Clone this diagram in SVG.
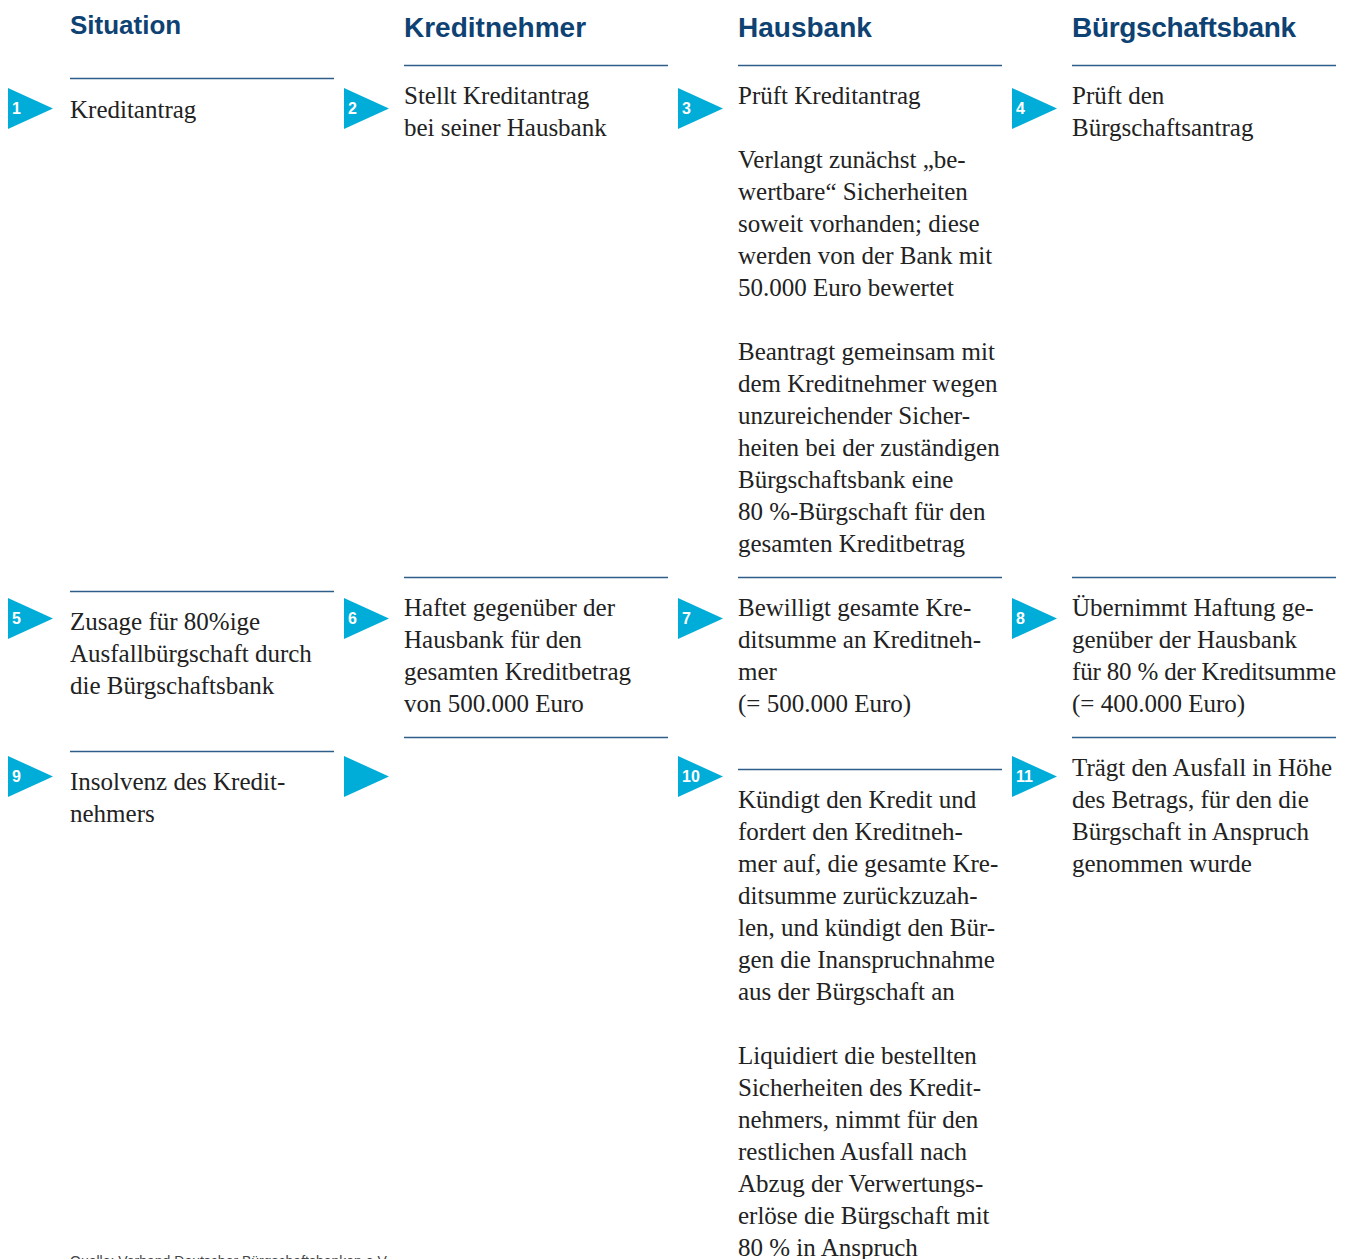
<svg xmlns="http://www.w3.org/2000/svg" xmlns:xlink="http://www.w3.org/1999/xlink" width="1352" height="1259" viewBox="0 0 1352 1259">
  <style>
    .hd { font-family: "Liberation Sans", Arial, sans-serif; font-weight: bold; fill: #0e4273; font-size: 28px; }
    .hd.s { font-size: 26px; }
    .tx { font-family: "Liberation Serif", "Times New Roman", serif; font-size: 25px; fill: #222222; }
    .rule { stroke: #2f5e8b; stroke-width: 1.5; fill: none; }
    .num { font-family: "Liberation Sans", Arial, sans-serif; font-weight: bold; font-size: 16px; fill: #ffffff; }
    .src { font-family: "Liberation Sans", Arial, sans-serif; font-size: 14px; fill: #444444; }
  </style>
  <defs>
    <!-- step marker: cyan triangle pointing right -->
    <path id="tri" d="M0 0 L45 20.5 L0 41 Z" fill="#00add8"/>
  </defs>

  <rect width="1352" height="1259" fill="#ffffff"/>

  <!-- column headings -->
  <g id="headings">
    <text class="hd s" x="70" y="34">Situation</text>
    <text class="hd" x="404" y="37">Kreditnehmer</text>
    <text class="hd" x="738" y="37">Hausbank</text>
    <text class="hd" x="1072" y="37" textLength="224">Bürgschaftsbank</text>
  </g>

  <!-- separator rules -->
  <g id="rules" class="rule">
    <line x1="70" y1="78.5" x2="334" y2="78.5"/>
    <line x1="404" y1="65.5" x2="668" y2="65.5"/>
    <line x1="738" y1="65.5" x2="1002" y2="65.5"/>
    <line x1="1072" y1="65.5" x2="1336" y2="65.5"/>

    <line x1="70" y1="591.5" x2="334" y2="591.5"/>
    <line x1="404" y1="577.5" x2="668" y2="577.5"/>
    <line x1="738" y1="577.5" x2="1002" y2="577.5"/>
    <line x1="1072" y1="577.5" x2="1336" y2="577.5"/>

    <line x1="70" y1="751.5" x2="334" y2="751.5"/>
    <line x1="404" y1="737.5" x2="668" y2="737.5"/>
    <line x1="738" y1="769.5" x2="1002" y2="769.5"/>
    <line x1="1072" y1="737.5" x2="1336" y2="737.5"/>
  </g>

  <!-- step markers -->
  <g id="markers">
    <g id="step1"><use xlink:href="#tri" x="8" y="88"/><text class="num" x="12" y="114">1</text></g>
    <g id="step2"><use xlink:href="#tri" x="344" y="88"/><text class="num" x="348" y="114">2</text></g>
    <g id="step3"><use xlink:href="#tri" x="678" y="88"/><text class="num" x="682" y="114">3</text></g>
    <g id="step4"><use xlink:href="#tri" x="1012" y="88"/><text class="num" x="1016" y="114">4</text></g>
    <g id="step5"><use xlink:href="#tri" x="8" y="598"/><text class="num" x="12" y="624">5</text></g>
    <g id="step6"><use xlink:href="#tri" x="344" y="598"/><text class="num" x="348" y="624">6</text></g>
    <g id="step7"><use xlink:href="#tri" x="678" y="598"/><text class="num" x="682" y="624">7</text></g>
    <g id="step8"><use xlink:href="#tri" x="1012" y="598"/><text class="num" x="1016" y="624">8</text></g>
    <g id="step9"><use xlink:href="#tri" x="8" y="756"/><text class="num" x="12" y="782">9</text></g>
    <g id="step-blank"><use xlink:href="#tri" x="344" y="756"/></g>
    <g id="step10"><use xlink:href="#tri" x="678" y="756"/><text class="num" x="682" y="782">10</text></g>
    <g id="step11"><use xlink:href="#tri" x="1012" y="756"/><text class="num" x="1016" y="782">11</text></g>
  </g>

  <!-- row 1 -->
  <g id="situation-1">
    <text class="tx" x="70" y="118">Kreditantrag</text>
  </g>
  <g id="kreditnehmer-1">
    <text class="tx" x="404" y="104">Stellt Kreditantrag</text>
    <text class="tx" x="404" y="136">bei seiner Hausbank</text>
  </g>
  <g id="hausbank-1">
    <text class="tx" x="738" y="104">Prüft Kreditantrag</text>
    <text class="tx" x="738" y="168">Verlangt zunächst „be-</text>
    <text class="tx" x="738" y="200">wertbare“ Sicherheiten</text>
    <text class="tx" x="738" y="232">soweit vorhanden; diese</text>
    <text class="tx" x="738" y="264">werden von der Bank mit</text>
    <text class="tx" x="738" y="296">50.000 Euro bewertet</text>
    <text class="tx" x="738" y="360">Beantragt gemeinsam mit</text>
    <text class="tx" x="738" y="392">dem Kreditnehmer wegen</text>
    <text class="tx" x="738" y="424">unzureichender Sicher-</text>
    <text class="tx" x="738" y="456">heiten bei der zuständigen</text>
    <text class="tx" x="738" y="488">Bürgschaftsbank eine</text>
    <text class="tx" x="738" y="520">80 %-Bürgschaft für den</text>
    <text class="tx" x="738" y="552">gesamten Kreditbetrag</text>
  </g>
  <g id="buergschaftsbank-1">
    <text class="tx" x="1072" y="104">Prüft den</text>
    <text class="tx" x="1072" y="136">Bürgschaftsantrag</text>
  </g>

  <!-- row 2 -->
  <g id="situation-2">
    <text class="tx" x="70" y="630">Zusage für 80%ige</text>
    <text class="tx" x="70" y="662">Ausfallbürgschaft durch</text>
    <text class="tx" x="70" y="694">die Bürgschaftsbank</text>
  </g>
  <g id="kreditnehmer-2">
    <text class="tx" x="404" y="616">Haftet gegenüber der</text>
    <text class="tx" x="404" y="648">Hausbank für den</text>
    <text class="tx" x="404" y="680">gesamten Kreditbetrag</text>
    <text class="tx" x="404" y="712">von 500.000 Euro</text>
  </g>
  <g id="hausbank-2">
    <text class="tx" x="738" y="616">Bewilligt gesamte Kre-</text>
    <text class="tx" x="738" y="648">ditsumme an Kreditneh-</text>
    <text class="tx" x="738" y="680">mer</text>
    <text class="tx" x="738" y="712">(= 500.000 Euro)</text>
  </g>
  <g id="buergschaftsbank-2">
    <text class="tx" x="1072" y="616">Übernimmt Haftung ge-</text>
    <text class="tx" x="1072" y="648">genüber der Hausbank</text>
    <text class="tx" x="1072" y="680" textLength="264">für 80 % der Kreditsumme</text>
    <text class="tx" x="1072" y="712">(= 400.000 Euro)</text>
  </g>

  <!-- row 3 -->
  <g id="situation-3">
    <text class="tx" x="70" y="790">Insolvenz des Kredit-</text>
    <text class="tx" x="70" y="822">nehmers</text>
  </g>
  <g id="hausbank-3">
    <text class="tx" x="738" y="808">Kündigt den Kredit und</text>
    <text class="tx" x="738" y="840">fordert den Kreditneh-</text>
    <text class="tx" x="738" y="872">mer auf, die gesamte Kre-</text>
    <text class="tx" x="738" y="904">ditsumme zurückzuzah-</text>
    <text class="tx" x="738" y="936">len, und kündigt den Bür-</text>
    <text class="tx" x="738" y="968">gen die Inanspruchnahme</text>
    <text class="tx" x="738" y="1000">aus der Bürgschaft an</text>
    <text class="tx" x="738" y="1064">Liquidiert die bestellten</text>
    <text class="tx" x="738" y="1096">Sicherheiten des Kredit-</text>
    <text class="tx" x="738" y="1128">nehmers, nimmt für den</text>
    <text class="tx" x="738" y="1160">restlichen Ausfall nach</text>
    <text class="tx" x="738" y="1192">Abzug der Verwertungs-</text>
    <text class="tx" x="738" y="1224">erlöse die Bürgschaft mit</text>
    <text class="tx" x="738" y="1256">80 % in Anspruch</text>
  </g>
  <g id="buergschaftsbank-3">
    <text class="tx" x="1072" y="776">Trägt den Ausfall in Höhe</text>
    <text class="tx" x="1072" y="808">des Betrags, für den die</text>
    <text class="tx" x="1072" y="840">Bürgschaft in Anspruch</text>
    <text class="tx" x="1072" y="872">genommen wurde</text>
  </g>

  <!-- source note -->
  <text class="src" x="70" y="1266">Quelle: Verband Deutscher Bürgschaftsbanken e.V.</text>
</svg>
